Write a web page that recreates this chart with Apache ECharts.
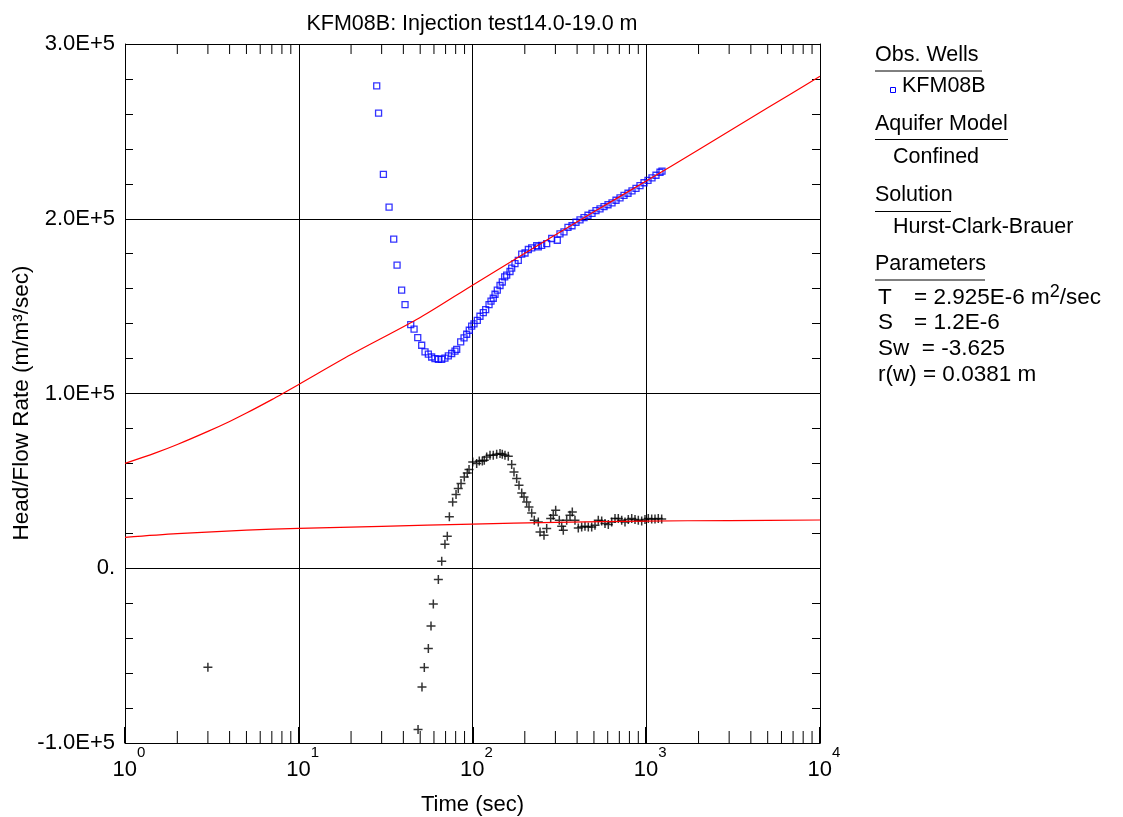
<!DOCTYPE html>
<html><head><meta charset="utf-8">
<script src="https://cdn.jsdelivr.net/npm/echarts@6/dist/echarts.min.js"></script>
<style>html,body{margin:0;padding:0;background:#fff}#c{width:1123px;height:817px}</style>
</head><body><div id="c"></div>
<script>
// ---- data ----
var obsTime = [28.1,28.8,30.7,33.1,35.2,36.8,39.1,40.9,44.1,46.1,48.4,51.0,53.3,55.7,58.2,60.8,63.6,66.5,69.4,72.6,75.9,79.3,81.1,85.5,89.4,92.6,95.8,98.9,102,106.6,110.4,115.4,119.1,124.5,127.8,131.7,134.8,138.9,144.0,148.4,153.2,157.3,164.4,168.1,175.6,183.5,192.0,200.6,209.6,219.1,234.1,239.2,250.1,267.3,285.6,307.6,318.8,336.1,354.4,373.9,394.2,415.6,438.3,462.1,487.4,513.8,541.8,571.3,602.5,635.3,669.9,706.3,744.6,785.3,827.9,873.0,920.4,970.7,1023.5,1079.2,1137.9,1199.8,1232];
var obsHead = [276000,260500,225400,206700,188300,173500,159200,150900,139400,136800,132000,127600,123800,122500,120900,120000,119600,119600,120300,121500,122900,124200,125300,129500,131800,133900,136200,138600,139800,141900,144200,146300,148000,150900,152900,154500,156800,159100,161800,163800,166700,167700,169800,171700,174300,176200,179700,180400,182400,183300,184600,183900,184800,185800,188700,187700,191400,192500,195100,196000,198000,199400,200600,202000,203100,204600,205700,206900,208000,209100,210600,212000,213400,214600,216000,217400,218900,220600,222000,223400,224900,226600,227200];
var derivTime = [3.0,48.6,51.2,52.8,55.7,57.7,59.5,63.6,66.5,69.4,71.6,73.6,76.9,80.4,82.8,85.9,89.7,93.3,95.5,100.3,105.7,109.4,113.9,116.9,120.7,126.1,131.7,137.8,144.0,148.4,153.8,160.7,168.1,173.3,179.6,185.2,192.0,197.9,205.0,211.4,219.1,226.8,239.2,244.7,257.9,267.3,281.8,291.7,301.1,315.9,326.1,333.1,348.4,364.0,375.3,388.9,406.3,425.0,444.0,464.0,485.3,507.0,529.7,554.1,578.9,604.8,632.7,661.0,690.5,722.3,754.6,788.4,824.8,861.6,900.1,941.5,983.6,1027.6,1075,1123,1173,1227];
var derivVal = [-56650,-92300,-67900,-56800,-45900,-33000,-20400,-6500,4000,13700,18300,29400,37900,42200,45600,48500,52200,54500,56500,60800,59900,61400,61400,61800,63700,64700,64700,65200,65600,65200,64700,64100,59300,55100,51300,47500,43100,40800,37900,35100,31600,27500,26500,20800,18900,22700,28400,30300,33200,27500,24000,21700,27500,30300,32200,27500,23100,23600,24000,23600,23600,24600,27500,27100,25600,25000,26500,28400,28400,27500,26500,27900,28400,27900,27500,27100,27900,28400,28200,28200,28400,28200];
var fitTime = [1,1.5,2,3,4,5,7,8.1,10,20,50,100,200,500,1000,2000,5000,10000];
var fitHead = [60000,66000,70800,78300,84000,88800,96500,100000,105200,122300,143500,162000,180200,204000,221600,239500,263500,281500];
var fitDerivTime = [1,2,5,10,30,100,300,1000,3000,10000];
var fitDeriv = [17700,19800,21800,22800,24000,25300,26300,27000,27300,27600];
var yTickLabels = {'300000':'3.0E+5','200000':'2.0E+5','100000':'1.0E+5','0':'0.','-100000':'-1.0E+5'};
var minorX = [2,3,4,5,6,7,8,9,20,30,40,50,60,70,80,90,200,300,400,500,600,700,800,900,2000,3000,4000,5000,6000,7000,8000,9000];
var titleText = 'KFM08B: Injection test14.0-19.0 m';

function zip(a,b){return a.map(function(v,i){return [v,b[i]];});}

var FONT = 'Liberation Sans, Arial, sans-serif';
var chart = echarts.init(document.getElementById('c'));
var grid = {left:125, top:44, right:303, bottom:74, outerBoundsMode:'none', containLabel:false};

var LF = '21.5px ' + FONT;
var PF = '22.5px ' + FONT;
var legendTexts = [
  {t:'Obs. Wells', x:875, y:66, f:LF},
  {t:'KFM08B', x:902, y:97, f:LF},
  {t:'Aquifer Model', x:875, y:135, f:LF},
  {t:'Confined', x:893, y:168, f:LF},
  {t:'Solution', x:875, y:206, f:LF},
  {t:'Hurst-Clark-Brauer', x:893, y:238, f:LF},
  {t:'Parameters', x:875, y:275, f:LF},
  {t:'T', x:878, y:309, f:PF},
  {t:'S', x:878, y:334, f:PF},
  {t:'Sw  = -3.625', x:878, y:360, f:PF},
  {t:'r(w) = 0.0381 m', x:878, y:386, f:PF}
];
var graphics = [];
legendTexts.forEach(function(e){
  graphics.push({type:'text', x:e.x, y:e.y, style:{text:e.t, font:e.f, fill:'#000', verticalAlign:'bottom'}});
});
graphics.push({type:'text', x:914, y:309, style:{text:'{a|= 2.925E-6 m}{s|2}{a|/sec}', font:PF, fill:'#000', verticalAlign:'bottom',
  rich:{a:{fontSize:22.5, fontFamily:FONT, verticalAlign:'bottom', lineHeight:26}, s:{fontSize:18, fontFamily:FONT, verticalAlign:'top', lineHeight:16}}}});
graphics.push({type:'text', x:914, y:334, style:{text:'= 1.2E-6', font:PF, fill:'#000', verticalAlign:'bottom'}});
[[875,982,71],[875,1008,139.5],[875,951,211.5],[875,985,280]].forEach(function(u){
  graphics.push({type:'line', shape:{x1:u[0],y1:u[2],x2:u[1],y2:u[2]}, style:{stroke:'#000', lineWidth:1}});
});
graphics.push({type:'rect', shape:{x:890.5,y:87.5,width:5,height:5}, style:{fill:'#fff', stroke:'#0000ff', lineWidth:1}});
graphics.push({type:'text', x:22, y:403, rotation:Math.PI/2, style:{text:'Head/Flow Rate (m/m³/sec)', font:'22.5px ' + FONT, fill:'#000', align:'center', verticalAlign:'middle'}});

chart.setOption({
  animation:false,
  backgroundColor:'#fff',
  title:{text:titleText, left:467, top:8, textAlign:'center', textStyle:{fontFamily:FONT, fontSize:21.5, fontWeight:'normal', color:'#000'}},
  grid:grid,
  xAxis:{type:'log', logBase:10, min:1, max:10000,
    name:'Time (sec)', nameLocation:'middle', nameGap:51, nameTextStyle:{fontFamily:FONT, fontSize:22, color:'#000'},
    axisLine:{show:true, onZero:false, lineStyle:{color:'#000', width:1}},
    axisTick:{show:true, inside:true, length:16, lineStyle:{color:'#000', width:2}},
    splitLine:{show:true, lineStyle:{color:'#000', width:1}},
    axisLabel:{margin:2, color:'#000', padding:[0,0,0,8], formatter:function(v){return '{b|10}{s|'+Math.round(Math.log10(v))+'}';},
      rich:{b:{fontFamily:FONT, fontSize:22, verticalAlign:'bottom', lineHeight:36}, s:{fontFamily:FONT, fontSize:15, verticalAlign:'top', lineHeight:10}}}
  },
  yAxis:[{type:'value', min:-100000, max:300000, interval:100000,
    axisLine:{show:true, onZero:false, lineStyle:{color:'#000'}},
    axisTick:{show:true, inside:true, length:8, lineStyle:{color:'#000'}},
    minorTick:{show:true, splitNumber:5, length:8, lineStyle:{color:'#000'}},
    splitLine:{show:true, lineStyle:{color:'#000', width:1}},
    axisLabel:{margin:10, color:'#000', fontFamily:FONT, fontSize:22, formatter:function(v){return yTickLabels[String(v)];}}
  },{type:'value', min:-100000, max:300000, interval:100000, position:'right',
    axisLine:{show:true, onZero:false, lineStyle:{color:'#000'}},
    axisTick:{show:true, inside:true, length:8, lineStyle:{color:'#000'}},
    minorTick:{show:true, splitNumber:5, length:8, lineStyle:{color:'#000'}},
    splitLine:{show:false}, axisLabel:{show:false}
  }],
  graphic:graphics,
  series:[
    {type:'custom', name:'minorX', silent:true, data:minorX.map(function(v){return [v];}), encode:{x:0},
      renderItem:function(params, api){
        var t = api.value(0);
        var pb = api.coord([t, -100000]);
        var pt = api.coord([t, 300000]);
        return {type:'group', children:[
          {type:'line', shape:{x1:pb[0],y1:pb[1],x2:pb[0],y2:pb[1]-12}, style:{stroke:'#000', lineWidth:1}},
          {type:'line', shape:{x1:pt[0],y1:pt[1],x2:pt[0],y2:pt[1]+10}, style:{stroke:'#000', lineWidth:1}}
        ]};
      }},
    {type:'scatter', name:'KFM08B', data:zip(obsTime, obsHead), symbol:'rect', symbolSize:6,
      itemStyle:{color:'rgba(255,255,255,0)', borderColor:'#0000ff', borderWidth:1.3}, z:3},
    {type:'scatter', name:'deriv', data:zip(derivTime, derivVal), symbol:'path://M0,5L10,5M5,0L5,10', symbolSize:9,
      itemStyle:{color:'none', borderColor:'#000', borderWidth:1.5}, z:3},
    {type:'line', name:'fit', data:zip(fitTime, fitHead), smooth:0.3, showSymbol:false, symbol:'none', lineStyle:{color:'#ff0000', width:1.2}, z:4},
    {type:'line', name:'fitDeriv', data:zip(fitDerivTime, fitDeriv), smooth:0.3, showSymbol:false, symbol:'none', lineStyle:{color:'#ff0000', width:1.2}, z:4}
  ]
});
</script></body></html>
